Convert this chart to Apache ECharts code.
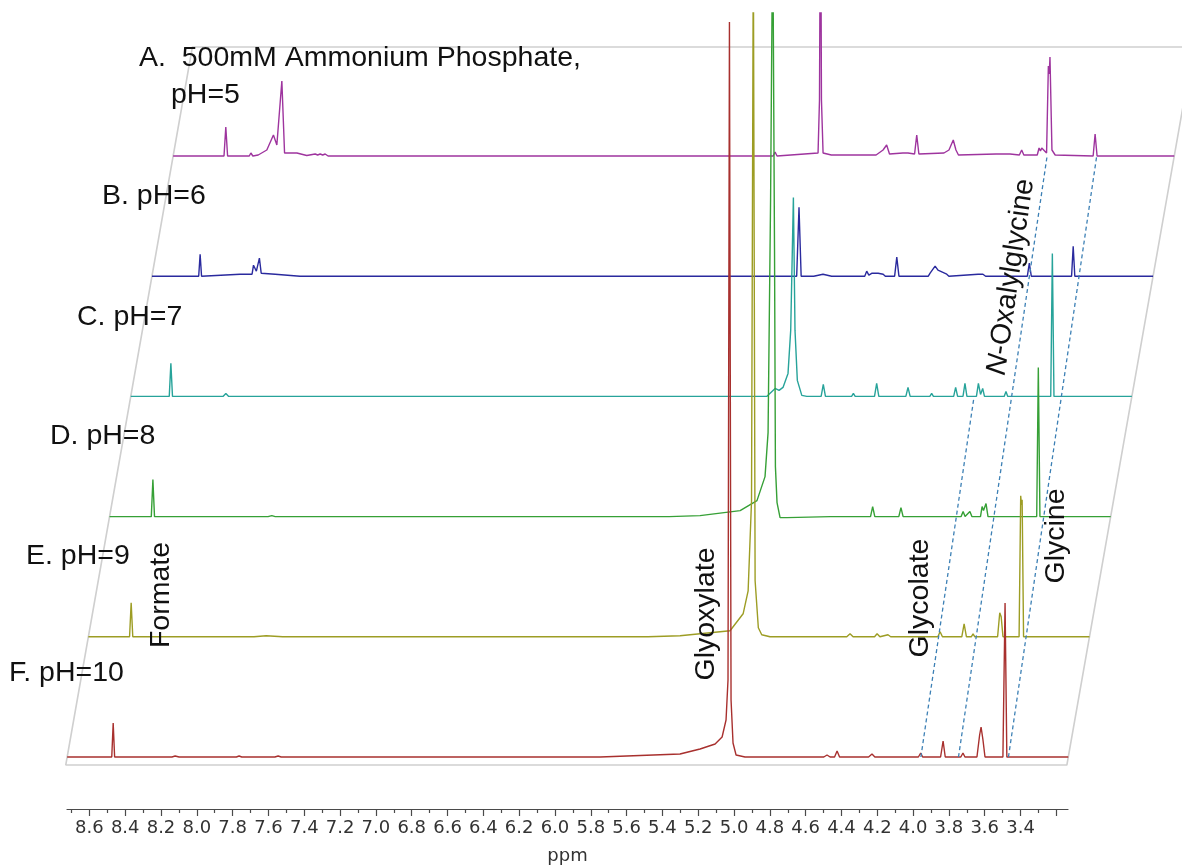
<!DOCTYPE html>
<html>
<head>
<meta charset="utf-8">
<script src="https://cdn.jsdelivr.net/npm/echarts@6/dist/echarts.min.js"></script>
<style>
  html, body { margin: 0; padding: 0; background: #ffffff; }
  #chart { width: 1182px; height: 866px; }
</style>
</head>
<body>
<div id="chart"></div>
<script>
// 1H NMR stack: glyoxylate in 500 mM ammonium phosphate, pH 5 to 10.
// Each spectrum is a list of [ppm, intensity] vertices, intensity above its own baseline.

const sampleLabels = ['A.  500mM Ammonium Phosphate,', 'pH=5', 'B. pH=6', 'C. pH=7', 'D. pH=8', 'E. pH=9', 'F. pH=10'];
const compoundLabels = ['Formate', 'Glyoxylate', 'Glycolate', 'N-Oxalylglycine', 'Glycine'];

// F. pH=10 (bottom trace)
const specF = [
  [8.725,0],[8.476,0],[8.468,34],[8.460,0],
  [8.14,0],[8.122,1],[8.10,0],[7.78,0],[7.765,1],[7.75,0],[7.565,0],[7.547,1],[7.53,0],
  [5.749,0],[5.303,3],[5.191,8],[5.107,13],[5.068,20],[5.046,37],[5.035,77],[5.027,735],
  [5.018,57],[5.007,14],[4.990,2],[4.940,0],
  [4.50,0],[4.482,2],[4.465,0],[4.440,0],[4.426,6],[4.412,0],
  [4.25,0],[4.231,3],[4.215,0],
  [3.972,0],[3.959,4],[3.948,0],
  [3.848,0],[3.834,16],[3.822,0],
  [3.735,0],[3.723,4],[3.712,0],
  [3.645,0],[3.630,22],[3.622,30],[3.612,18],[3.600,0],
  [3.500,0],[3.488,154],[3.478,0],
  [3.135,0]
];
// E. pH=9
const specE = [
  [8.725,0],[8.495,0],[8.486,34],[8.477,0],
  [7.80,0],[7.732,1],[7.64,0],
  [5.60,0],[5.421,1],[5.142,6],[5.069,23],[5.041,46],[5.022,136],[5.012,700],[5.002,56],
  [4.984,9],[4.965,2],[4.919,0],
  [4.49,0],[4.472,3],[4.455,0],
  [4.335,0],[4.321,3],[4.305,0],[4.260,2],[4.245,0],
  [3.982,0],[3.969,5],[3.956,0],
  [3.848,0],[3.835,13],[3.822,0],
  [3.795,0],[3.785,3],[3.775,0],
  [3.648,0],[3.636,24],[3.628,20],[3.618,0],
  [3.528,0],[3.519,141],[3.515,132],[3.511,137],[3.503,0],
  [3.135,0]
];
// D. pH=8
const specD = [
  [8.725,0],[8.492,0],[8.483,37],[8.474,0],
  [7.84,0],[7.819,1],[7.80,0],
  [5.60,0],[5.428,1],[5.204,6],[5.110,16],[5.065,40],[5.048,84],[5.034,317],[5.022,600],
  [5.012,267],[5.007,50],[4.998,14],[4.981,-1],[4.942,-1],[4.70,0],
  [4.476,0],[4.464,10],[4.452,0],
  [4.318,0],[4.306,9],[4.294,0],
  [3.970,0],[3.959,5],[3.948,0],[3.921,5],[3.910,0],
  [3.862,0],[3.853,10],[3.845,6],[3.831,13],[3.820,0],
  [3.548,0],[3.539,149],[3.530,0],
  [3.135,0]
];
// C. pH=7
const specC = [
  [8.725,0],[8.510,0],[8.501,33],[8.492,0],
  [8.21,0],[8.194,3],[8.178,0],
  [5.30,0],[5.174,0],[5.127,8],[5.105,6],[5.083,9],[5.055,23],[5.040,66],[5.025,199],
  [5.016,66],[5.003,16],[4.978,1],[4.95,0],
  [4.870,0],[4.858,12],[4.846,0],
  [4.70,0],[4.690,3],[4.680,0],
  [4.572,0],[4.560,13],[4.548,0],
  [4.397,0],[4.385,9],[4.373,0],
  [4.263,0],[4.253,3],[4.243,0],
  [4.130,0],[4.119,9],[4.108,0],
  [4.078,0],[4.067,13],[4.056,0],
  [4.003,0],[3.992,13],[3.980,2],[3.968,8],[3.958,0],
  [3.848,0],[3.838,5],[3.828,0],
  [3.588,0],[3.579,143],[3.570,0],
  [3.135,0]
];
// B. pH=6
const specB = [
  [8.725,0],[8.464,0],[8.456,22],[8.448,0],
  [8.233,2],[8.166,2],[8.158,11],[8.142,5],[8.125,18],[8.115,3],[8.037,2],[7.898,0],
  [5.125,0],[5.112,69],[5.100,0],
  [5.03,0],[4.978,2],[4.93,0],
  [4.745,0],[4.734,5],[4.722,1],[4.704,3],[4.670,3],[4.642,2],[4.630,0],
  [4.578,0],[4.566,19],[4.554,0],
  [4.390,0],[4.380,3],[4.352,10],[4.336,6],[4.287,2],[4.275,0],
  [4.112,2],[4.085,2],[4.07,0],
  [3.990,0],[3.980,2],[3.970,0],
  [3.837,0],[3.826,13],[3.815,0],
  [3.590,0],[3.581,30],[3.572,0],
  [3.135,0]
];
// A. pH=5 (top trace)
const specA = [
  [8.725,0],[8.441,0],[8.431,29],[8.421,0],
  [8.30,0],[8.291,3],[8.28,0],
  [8.25,1],[8.202,6],[8.165,21],[8.146,11],[8.118,75],[8.103,3],[8.034,3],[7.979,0.5],
  [7.932,2],[7.918,1],[7.904,2],[7.890,1],[7.876,2],[7.86,0],
  [5.375,0],[5.364,4],[5.353,0],
  [5.124,3],[5.116,56],[5.110,300],[5.105,56],[5.096,3],[5.05,1],
  [4.908,1],[4.80,1],[4.761,6],[4.741,11],[4.725,2],[4.650,3],[4.622,3],[4.585,2],[4.573,21],[4.561,2],
  [4.421,3],[4.393,6],[4.369,16],[4.354,6],[4.340,1],
  [4.130,2],[4.080,2],[4.052,2],[4.0,1],[3.987,6],[3.975,1],
  [3.900,1],[3.890,8],[3.882,5],[3.875,8],[3.848,3],[3.838,90],[3.833,82],[3.829,99],[3.818,6],[3.80,1],
  [3.588,0],[3.577,22],[3.566,0],
  [3.135,0]
];

// Peak tracking guides: [trace level, ppm] at each end (level 0 = F ... 5 = A)
const guideGlycolate = [[0, 3.958], [3, 4.016]];
const guideOxalylglycine = [[0, 3.748], [5, 3.845]];
const guideGlycine = [[0, 3.469], [5, 3.568]];

// Bottom scale
const tickLabels = [8.6,8.4,8.2,8.0,7.8,7.6,7.4,7.2,7.0,6.8,6.6,6.4,6.2,6.0,5.8,5.6,5.4,5.2,5.0,4.8,4.6,4.4,4.2,4.0,3.8,3.6,3.4];
const majorTicks = [8.6,8.4,8.2,8.0,7.8,7.6,7.4,7.2,7.0,6.8,6.6,6.4,6.2,6.0,5.8,5.6,5.4,5.2,5.0,4.8,4.6,4.4,4.2,4.0,3.8,3.6,3.4,3.2];
const minorTicks = [8.7,8.5,8.3,8.1,7.9,7.7,7.5,7.3,7.1,6.9,6.7,6.5,6.3,6.1,5.9,5.7,5.5,5.3,5.1,4.9,4.7,4.5,4.3,4.1,3.9,3.7,3.5,3.3];

// Spectral window of every trace, ppm
const PPM_LEFT = 8.725;
const PPM_RIGHT = 3.135;

// Stacking: each trace moves up one level and right by a fixed ppm step
const LEVEL_STEP = 120.2;
const PPM_SHIFT = 0.11836;

const traces = [
  { name: 'F. pH=10', data: specF, color: '#a8302e' },
  { name: 'E. pH=9', data: specE, color: '#9d9d24' },
  { name: 'D. pH=8', data: specD, color: '#36a036' },
  { name: 'C. pH=7', data: specC, color: '#27a39a' },
  { name: 'B. pH=6', data: specB, color: '#2a2a9e' },
  { name: 'A. pH=5', data: specA, color: '#9e349e' }
];

// Offset along the slanted stacking direction (level may be fractional)
function skew(ppm, level) {
  return [ppm - level * PPM_SHIFT, level * LEVEL_STEP];
}
// A trace keeps its peaks upright: only its baseline is offset
function placeTrace(points, level) {
  return points.map(function (p) {
    return [p[0] - level * PPM_SHIFT, p[1] + level * LEVEL_STEP];
  });
}
function placeGuide(ends) {
  return ends.map(function (e) { return skew(e[1], e[0]); });
}

// Gray box behind the stack, from just under F to above A (in levels)
const FRAME_BOTTOM = -8 / LEVEL_STEP, FRAME_TOP = 710 / LEVEL_STEP;
const frameData = [
  skew(PPM_RIGHT, FRAME_TOP), skew(PPM_LEFT, FRAME_TOP), skew(PPM_LEFT, FRAME_BOTTOM),
  skew(PPM_RIGHT, FRAME_BOTTOM), skew(PPM_RIGHT, FRAME_TOP)
];

const series = [];
series.push({
  type: 'line', xAxisIndex: 0, yAxisIndex: 0, data: frameData, symbol: 'none',
  lineStyle: { color: '#cfcfcf', width: 1.6 }, z: 1, silent: true
});
traces.forEach(function (t, k) {
  series.push({
    type: 'line', name: t.name, xAxisIndex: 0, yAxisIndex: 0,
    data: placeTrace(t.data, k), symbol: 'none', clip: true,
    lineStyle: { color: t.color, width: 1.4 }, z: 3 + (5 - k)
  });
});
[guideGlycolate, guideOxalylglycine, guideGlycine].forEach(function (g) {
  series.push({
    type: 'line', xAxisIndex: 0, yAxisIndex: 0, data: placeGuide(g), symbol: 'none',
    lineStyle: { color: '#3d80b5', width: 1.3, type: [4, 3] }, z: 10
  });
});

const labelFont = '28.5px "Liberation Sans", Arial, sans-serif';
function hText(str, x, y) {
  return { type: 'text', x: x, y: y, z: 20,
    style: { text: str, font: labelFont, fill: '#111', align: 'left', verticalAlign: 'middle' } };
}
function vText(str, x, y, angle) {
  return { type: 'text', x: x, y: y, rotation: angle, z: 20,
    style: { text: str, font: labelFont, fill: '#111', align: 'center', verticalAlign: 'middle' } };
}

const graphics = [
  hText(sampleLabels[0], 139, 58),
  hText(sampleLabels[1], 171, 95),
  hText(sampleLabels[2], 102, 196),
  hText(sampleLabels[3], 77, 317),
  hText(sampleLabels[4], 50, 436),
  hText(sampleLabels[5], 26, 556),
  hText(sampleLabels[6], 9, 673),
  vText(compoundLabels[0], 161, 595, Math.PI / 2),
  vText(compoundLabels[1], 706, 614, Math.PI / 2),
  vText(compoundLabels[2], 920, 598, Math.PI / 2),
  vText(compoundLabels[4], 1056, 536, Math.PI / 2),
  {
    type: 'text', x: 1011, y: 277, rotation: (90 - 8.4) * Math.PI / 180, z: 20,
    style: {
      text: '{it|N}-Oxalylglycine', fill: '#111', align: 'center', verticalAlign: 'middle',
      fontSize: 28.5, fontFamily: '"Liberation Sans", Arial, sans-serif',
      rich: { it: { fontStyle: 'italic', fontSize: 28.5, fontFamily: '"Liberation Sans", Arial, sans-serif', fill: '#111' } }
    }
  }
];

const axisColor = '#4a4a4a';
const chart = echarts.init(document.getElementById('chart'), null, { renderer: 'canvas' });
chart.setOption({
  animation: false,
  backgroundColor: '#ffffff',
  grid: [
    { left: 60, right: 0, top: 13, bottom: 54 },
    { left: 67, right: 114, top: 800, bottom: 54 }
  ],
  xAxis: [
    { gridIndex: 0, type: 'value', inverse: true, min: 2.5, max: 8.765, show: false },
    {
      gridIndex: 1, type: 'value', inverse: true, min: PPM_RIGHT, max: PPM_LEFT, position: 'bottom',
      axisLine: { show: true, onZero: false, lineStyle: { color: axisColor, width: 1.2 } },
      axisTick: { show: true, customValues: minorTicks, length: 4, lineStyle: { color: axisColor, width: 1.2 } },
      axisLabel: {
        show: true, customValues: tickLabels, margin: 10,
        formatter: function (v) { return Number(v).toFixed(1); },
        fontFamily: '"DejaVu Sans", Verdana, sans-serif', fontSize: 18, color: '#333'
      },
      splitLine: { show: false },
      name: 'ppm', nameLocation: 'middle', nameGap: 38,
      nameTextStyle: { fontFamily: '"DejaVu Sans", Verdana, sans-serif', fontSize: 18, color: '#333' }
    },
    {
      gridIndex: 1, type: 'value', inverse: true, min: PPM_RIGHT, max: PPM_LEFT, position: 'bottom', offset: 0,
      axisLine: { show: false },
      axisTick: { show: true, customValues: majorTicks, length: 7, lineStyle: { color: axisColor, width: 1.2 } },
      axisLabel: { show: false },
      splitLine: { show: false }
    }
  ],
  yAxis: [
    { gridIndex: 0, type: 'value', min: -55, max: 744, show: false },
    { gridIndex: 1, type: 'value', min: 0, max: 1, show: false }
  ],
  series: series,
  graphic: graphics
});
</script>
</body>
</html>
